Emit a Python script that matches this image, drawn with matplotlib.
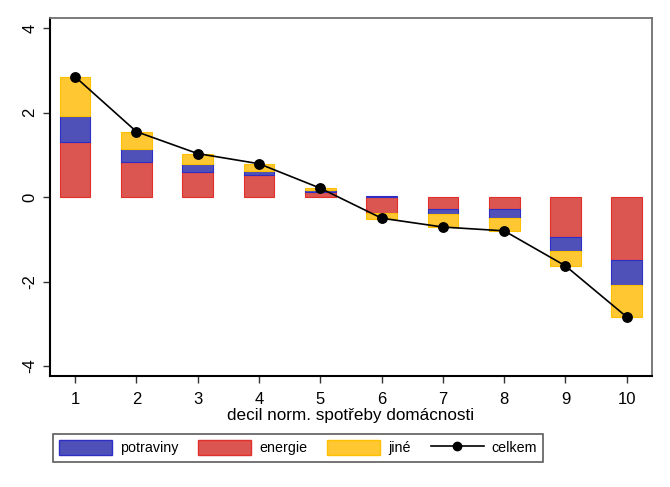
import matplotlib.pyplot as plt
import numpy as np
from matplotlib.lines import Line2D
from matplotlib.patches import Patch

plt.rcParams['font.family'] = ['Liberation Sans', 'DejaVu Sans']

decily = np.arange(1, 11)
potraviny = [0.61, 0.31, 0.195, 0.085, 0.06, 0.02, -0.10, -0.21, -0.33, -0.60]
energie = [1.31, 0.82, 0.585, 0.53, 0.11, -0.38, -0.29, -0.29, -0.94, -1.49]
jine = [0.93, 0.42, 0.25, 0.175, 0.04, -0.14, -0.33, -0.30, -0.36, -0.75]
celkem = [2.85, 1.55, 1.03, 0.79, 0.21, -0.50, -0.71, -0.80, -1.63, -2.84]

# (fill, edge) per series
styles = {
    'energie': ('#dc5651', '#e0302c'),
    'potraviny': ('#4f51b9', '#2e2ec4'),
    'jiné': ('#ffc832', '#ffc000'),
}
order = [('energie', energie), ('potraviny', potraviny), ('jiné', jine)]

fig = plt.figure(figsize=(6.7, 4.87), dpi=100)
ax = fig.add_axes([0.0746, 0.2269, 0.8984, 0.736])

pos_base = np.zeros(10)
neg_base = np.zeros(10)
for name, vals in order:
    vals = np.array(vals)
    base = np.where(vals >= 0, pos_base, neg_base)
    fc, ec = styles[name]
    ax.bar(decily, vals, bottom=base, width=0.5, color=fc, edgecolor=ec,
           linewidth=0.8, zorder=2)
    pos_base = pos_base + np.clip(vals, 0, None)
    neg_base = neg_base + np.clip(vals, None, 0)

ax.plot(decily, celkem, color='black', lw=1.2, marker='o', ms=6.8, zorder=3)

ax.set_xlim(0.59, 10.41)
ax.set_ylim(-4.25, 4.24)
ax.set_xticks(decily)
ax.set_yticks([-4, -2, 0, 2, 4])
ax.set_yticklabels(['-4', '-2', '0', '2', '4'], rotation=90, va='center')
ax.tick_params(labelsize=12, length=5, width=1, color='#333333')
ax.tick_params(axis='x', pad=6.4)
ax.tick_params(axis='y', pad=4)

for s in ['left', 'bottom']:
    ax.spines[s].set_color('black')
    ax.spines[s].set_linewidth(1.5)
for s in ['top', 'right']:
    ax.spines[s].set_color('#707070')
    ax.spines[s].set_linewidth(1.3)

ax.set_xlabel('decil norm. spotřeby domácnosti', fontsize=12.3, labelpad=0.5)

handles = [
    Patch(facecolor=styles['potraviny'][0], edgecolor=styles['potraviny'][1]),
    Patch(facecolor=styles['energie'][0], edgecolor=styles['energie'][1]),
    Patch(facecolor=styles['jiné'][0], edgecolor=styles['jiné'][1]),
    Line2D([], [], color='black', marker='o', ms=6, lw=1.2),
]
leg = fig.legend(handles, ['potraviny', 'energie', 'jiné', 'celkem'],
                 loc='center', bbox_to_anchor=(0.4448, 0.081), ncol=4,
                 fontsize=10.3, frameon=True, fancybox=False,
                 handlelength=3.7, handleheight=1.2, columnspacing=1.4,
                 handletextpad=0.55, borderpad=0.45, borderaxespad=0)
leg.get_frame().set_edgecolor('#333333')
leg.get_frame().set_linewidth(1.2)

fig.savefig('out.png', dpi=100)
